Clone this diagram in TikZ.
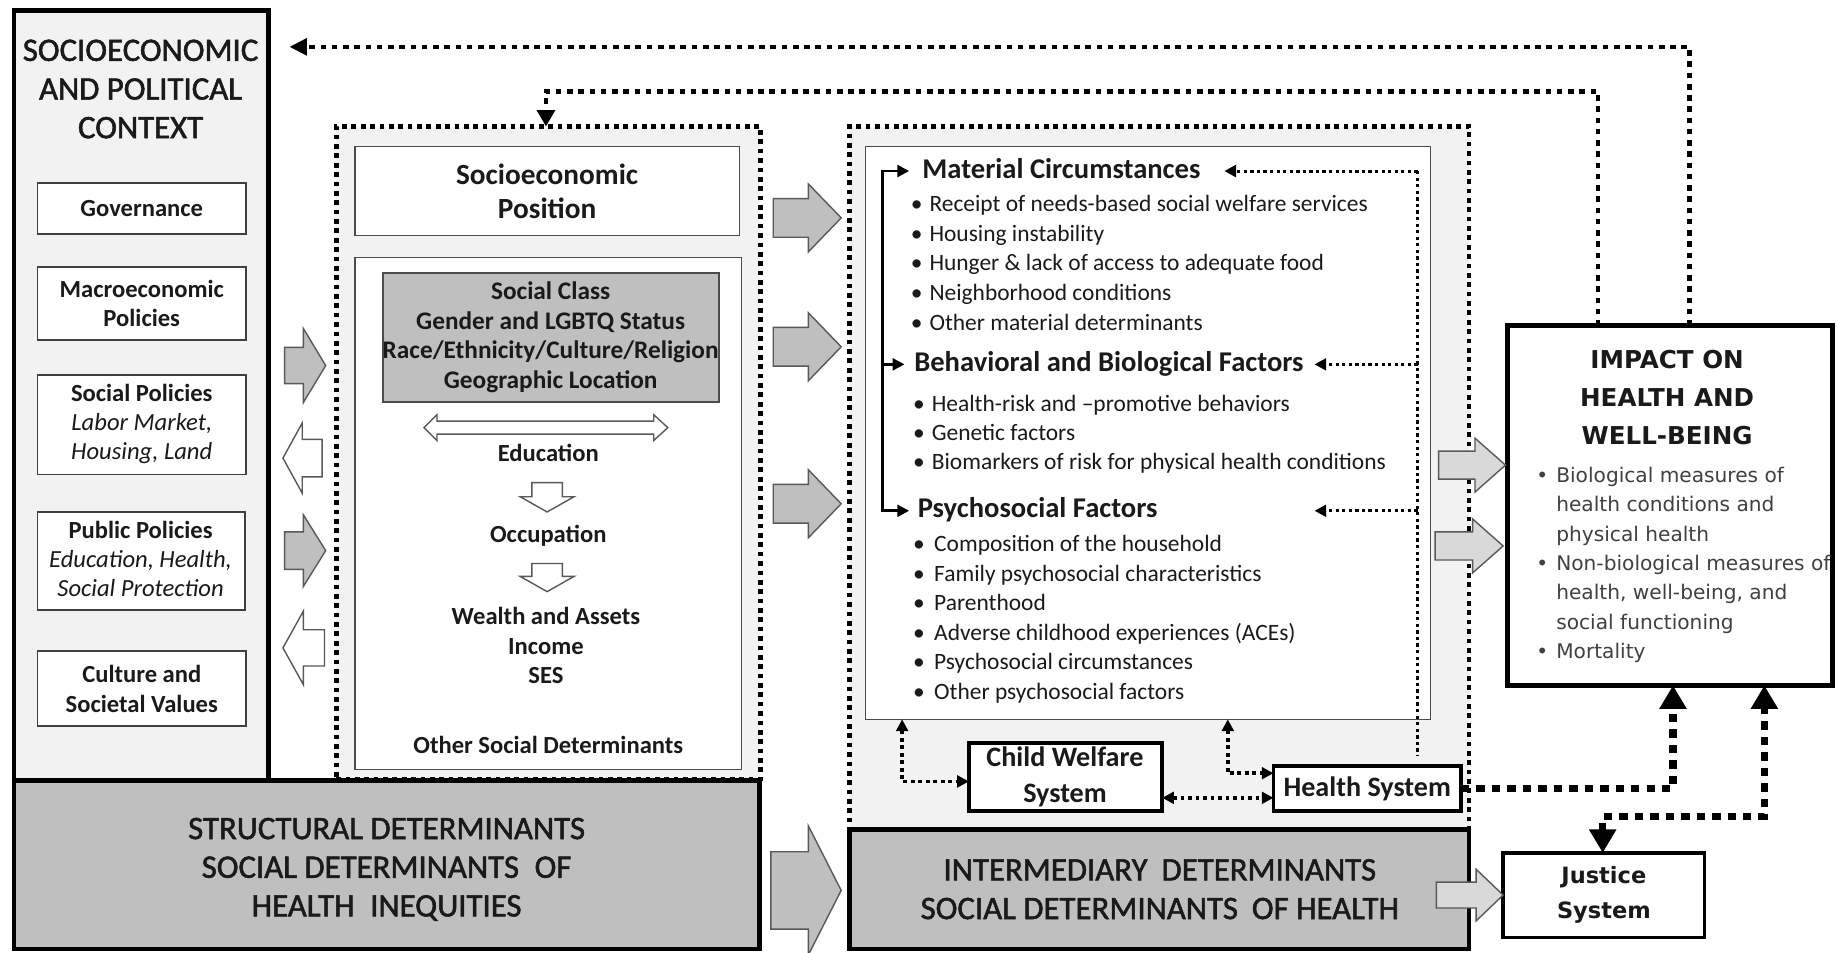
\documentclass[tikz,border=0pt]{standalone}
\usepackage{fontspec}
\setmainfont{Carlito}
\newfontfamily\verdf{DejaVu Sans}
\newfontfamily\capsf[FakeBold=1.6]{Carlito}
\usetikzlibrary{arrows.meta,fit}
\definecolor{bgl}{HTML}{F2F2F2}
\definecolor{midg}{HTML}{BFBFBF}
\definecolor{ltg}{HTML}{D9D9D9}
\definecolor{txt}{HTML}{1A1A1A}
\definecolor{imptxt}{HTML}{404040}
\newcommand{\hbarrow}[7]{\draw[barrow,fill=#7] ({#1},{#4-#5}) -- ({#2},{#4-#5}) -- ({#2},{#4-#6}) -- ({#3},{#4}) -- ({#2},{#4+#6}) -- ({#2},{#4+#5}) -- ({#1},{#4+#5}) -- cycle;}
\newcommand{\vbarrow}[6]{\draw[barrow,fill=white] ({#1-#5},{#2}) -- ({#1+#5},{#2}) -- ({#1+#5},{#3}) -- ({#1+#6},{#3}) -- ({#1},{#4}) -- ({#1-#6},{#3}) -- ({#1-#5},{#3}) -- cycle;}
\tikzset{
 boxb/.style={inner sep=0pt, outer sep=0pt},
 ctx/.style={boxb, draw=black, line width=2pt, fill=bgl},
 subb/.style={boxb, draw=black!75, line width=0.8pt, fill=white},
 innerb/.style={boxb, draw=black!70, line width=0.6pt, fill=white},
 dotreg/.style={boxb, draw=black, line width=2pt, dash pattern=on 2pt off 2pt, fill=bgl},
 det/.style={boxb, draw=black, line width=2pt, fill=midg},
 sys/.style={boxb, draw=black, line width=1.6pt, fill=white},
 barrow/.style={draw=black!65, line width=0.6pt, line join=miter},
 txtn/.style={inner sep=0pt, text=txt, align=center},
 bul/.style={inner sep=0pt, anchor=base west, text=txt, font=\fontsize{10}{12}\selectfont},
 itm/.style={inner sep=0pt, anchor=base west, text=txt, font=\fontsize{10}{12}\selectfont},
 ibul/.style={inner sep=0pt, anchor=base west, text=imptxt, font=\verdf\fontsize{8.6}{10}\selectfont},
 hdr/.style={inner sep=0pt, anchor=base west, text=txt, font=\bfseries\fontsize{12.2}{14}\selectfont},
 finedot/.style={line width=1.5pt, dash pattern=on 1.6pt off 1.6pt},
 innerdot/.style={line width=1.3pt, dash pattern=on 1.4pt off 1.4pt},
 fbline/.style={line width=2pt, dash pattern=on 2.4pt off 2.4pt},
 bigdot/.style={line width=3pt, dash pattern=on 3.6pt off 3pt},
 tipS/.style={-{Triangle[length=5pt,width=5pt]}},
}
\begin{document}
\begin{tikzpicture}[x=0.5pt,y=-0.5pt]
\useasboundingbox (0,0) rectangle (1568,813);

% ---------- regions ----------
\node[ctx, fit={(12,9)(229,666)}] (ctx) {};
\node[dotreg, fit={(287,108)(649,665)}] (sepreg) {};
\node[dotreg, fit={(725,108)(1254,708)}] (intreg) {};
\node[det, fit={(12,666)(648,810)}] (struct) {};
\node[det, fit={(725,708)(1254,810)}] (interm) {};

% ---------- context column ----------
\node[txtn, font=\capsf\fontsize{14}{16.5}\selectfont] (ctxt) at (120,76) {SOCIOECONOMIC\\AND POLITICAL\\CONTEXT};
\node[subb, fit={(32,156)(210,200)}] (gov) {};
\node[txtn, font=\bfseries\fontsize{10.5}{12.5}\selectfont] (govt) at (gov.center) {Governance};
\node[subb, fit={(32,228)(210,290)}] (mac) {};
\node[txtn, font=\bfseries\fontsize{10.5}{12.5}\selectfont] (mact) at (mac.center) {Macroeconomic\\Policies};
\node[subb, fit={(32,320)(210,405)}] (soc) {};
\node[txtn, font=\fontsize{10.5}{12.5}\selectfont] (soct) at (121,362) {\textbf{Social Policies}\\\textit{Labor Market,}\\\textit{Housing, Land}};
\node[subb, fit={(32,437)(209,521)}] (pub) {};
\node[txtn, font=\fontsize{10.5}{12.5}\selectfont] (pubt) at (120,477) {\textbf{Public Policies}\\\textit{Education, Health,}\\\textit{Social Protection}};
\node[subb, fit={(32,556)(210,620)}] (cul) {};
\node[txtn, font=\bfseries\fontsize{10.5}{12.5}\selectfont] (cult) at (cul.center) {Culture and\\Societal Values};

% ---------- arrows between context and SEP ----------
\hbarrow{243}{259}{278}{312}{15.5}{31.5}{midg}
\hbarrow{275}{258}{241.5}{391}{16}{30}{white}
\hbarrow{243}{259}{278}{470}{16}{30.5}{midg}
\hbarrow{277}{259}{241.5}{553}{15.5}{31.5}{white}

% ---------- SEP ----------
\node[innerb, fit={(303,125)(631,201)}] (sept) {};
\node[txtn, font=\bfseries\fontsize{12.5}{14.5}\selectfont] (septx) at (sept.center) {Socioeconomic\\Position};
\node[innerb, fit={(303,220)(633,657)}] (sepc) {};
\node[boxb, draw=black!70, line width=0.8pt, fill=midg, fit={(327,233)(614,343)}] (gray) {};
\node[txtn, font=\bfseries\fontsize{10.8}{12.6}\selectfont] (grayt) at (470,288) {Social Class\\Gender and LGBTQ Status\\Race/Ethnicity/Culture/Religion\\Geographic Location};
\draw[barrow,fill=white] (362,365) -- (373,354) -- (373,359.5) -- (558,359.5) -- (558,354) -- (570,365) -- (558,376) -- (558,370.5) -- (373,370.5) -- (373,376) -- cycle;
\node[txtn, font=\bfseries\fontsize{10.5}{12.5}\selectfont] (edu) at (468,387) {Education};
\vbarrow{467}{412}{424}{437}{13}{23}
\node[txtn, font=\bfseries\fontsize{10.5}{12.5}\selectfont] (occ) at (468,457) {Occupation};
\vbarrow{467}{481}{492}{505}{13}{23}
\node[txtn, font=\bfseries\fontsize{10.5}{12.5}\selectfont] (wea) at (466,551) {Wealth and Assets\\Income\\SES};
\node[txtn, font=\bfseries\fontsize{10.5}{12.5}\selectfont] (osd) at (468,636) {Other Social Determinants};

% ---------- arrows SEP -> intermediary ----------
\hbarrow{660}{690}{718}{186}{16.5}{29}{midg}
\hbarrow{660}{690}{718}{296}{16.5}{29}{midg}
\hbarrow{660}{690}{718}{430}{16.5}{29}{midg}
\hbarrow{658}{690}{718}{760}{33}{55}{midg}

% ---------- intermediary ----------
\node[innerb, fit={(739,125)(1221,614)}] (ibox) {};
\node[hdr] (mch) at (787,152) {Material Circumstances};
\foreach \tx [count=\i] in {Receipt of needs-based social welfare services, Housing instability, Hunger \& lack of access to adequate food, Neighborhood conditions, Other material determinants}{
  \node[bul] (mcb\i) at (777,{180.5+25.4*(\i-1)}) {\textbullet};
  \node[itm] (mc\i) at (793,{180.5+25.4*(\i-1)}) {\tx};
}
\node[hdr] (bbh) at (780,317) {Behavioral and Biological Factors};
\foreach \tx [count=\i] in {Health-risk and –promotive behaviors, Genetic factors, Biomarkers of risk for physical health conditions}{
  \node[bul] (bbb\i) at (779,{351+25*(\i-1)}) {\textbullet};
  \node[itm] (bb\i) at (795,{351+25*(\i-1)}) {\tx};
}
\node[hdr] (psh) at (783,442) {Psychosocial Factors};
\foreach \tx [count=\i] in {Composition of the household, Family psychosocial characteristics, Parenthood, Adverse childhood experiences (ACEs), Psychosocial circumstances, Other psychosocial factors}{
  \node[bul] (psb\i) at (779,{471+25.2*(\i-1)}) {\textbullet};
  \node[itm] (ps\i) at (797,{471+25.2*(\i-1)}) {\tx};
}
% bracket
\coordinate (brA) at (776,146);
\coordinate (brB) at (772,311);
\coordinate (brC) at (776,436);
\draw[line width=1.2pt, {Triangle[length=5pt,width=5pt]}-{Triangle[length=5pt,width=5pt]}] (brA) -- (753,146) -- (753,436) -- (brC);
\draw[line width=1.2pt, tipS] (753,311) -- (brB);
% inner dotted feedback
\coordinate (idA) at (1045,146);
\coordinate (idB) at (1122,311);
\coordinate (idC) at (1122,436);
\draw[innerdot] (1210,146) -- (1210,645);
\draw[innerdot, tipS] (1210,146) -- (idA);
\draw[innerdot, tipS] (1210,311) -- (idB);
\draw[innerdot, tipS] (1210,436) -- (idC);

% ---------- systems ----------
\node[sys, fit={(827,634)(992,692)}] (cw) {};
\node[txtn, font=\bfseries\fontsize{12}{15.5}\selectfont] (cwt) at (909,663) {Child Welfare\\System};
\node[sys, fit={(1087,654)(1247,692)}] (hs) {};
\node[txtn, font=\bfseries\fontsize{12}{14}\selectfont] (hst) at (1167,673) {Health System};

\draw[finedot, {Triangle[length=5pt,width=5pt]}-{Triangle[length=5pt,width=5pt]}] (770,0 |- ibox.south) -- (770,667) -- (770,667 -| cw.west);
\draw[finedot, {Triangle[length=5pt,width=5pt]}-{Triangle[length=5pt,width=5pt]}] (1048,0 |- ibox.south) -- (1048,660) -- (1048,660 -| hs.west);
\draw[finedot, {Triangle[length=5pt,width=5pt]}-{Triangle[length=5pt,width=5pt]}] (cw.east |- 0,681) -- (hs.west |- 0,681);

% ---------- impact ----------
\node[boxb, draw=black, line width=2.2pt, fill=white, fit={(1287,278)(1564,585)}] (imp) {};
\node[txtn, font=\verdf\bfseries\fontsize{10.5}{16.25}\selectfont] (impt) at (1423,339) {IMPACT ON\\HEALTH AND\\WELL-BEING};
\foreach \tx [count=\i] in {Biological measures of, health conditions and, physical health, Non-biological measures of, {health, well-being, and}, social functioning, Mortality}{
  \node[ibul] (im\i) at (1328,{412+25*(\i-1)}) {\tx};
}
\node[ibul] (imb1) at (1311,412) {•};
\node[ibul] (imb2) at (1311,487) {•};
\node[ibul] (imb3) at (1311,562) {•};

\hbarrow{1228}{1259}{1285}{397}{12}{23}{ltg}
\hbarrow{1225}{1257}{1283}{466}{12}{23}{ltg}

% ---------- justice ----------
\node[boxb, draw=black, line width=1.4pt, fill=white, fit={(1283,728)(1455,800)}] (js) {};
\node[txtn, font=\verdf\bfseries\fontsize{9.6}{15}\selectfont] (jst) at (js.center) {Justice\\System};
\hbarrow{1226}{1260}{1283}{764}{11}{22}{ltg}

% ---------- determinants labels ----------
\node[txtn, font=\capsf\fontsize{14}{16.5}\selectfont] (structt) at (330,742) {STRUCTURAL DETERMINANTS\\SOCIAL DETERMINANTS\hspace{0.25em} OF\\HEALTH\hspace{0.25em} INEQUITIES};
\node[txtn, font=\capsf\fontsize{14}{16.5}\selectfont] (intermt) at (990,759) {INTERMEDIARY\hspace{0.2em} DETERMINANTS\\SOCIAL DETERMINANTS\hspace{0.2em} OF HEALTH};

% ---------- thick dotted links ----------
\draw[bigdot, -{Triangle[length=10pt,width=11pt]}] (hs.east) -- (1428,0 |- hs.east) -- (1428,0 |- imp.south);
\draw[bigdot, {Triangle[length=10pt,width=11pt]}-{Triangle[length=10pt,width=11pt]}] (1368,0 |- js.north) -- (1368,697) -- (1506,697) -- (1506,0 |- imp.south);

% ---------- feedback lines ----------
\coordinate (fbF) at (247,40);
\draw[fbline, -{Triangle[length=7.5pt,width=7pt]}] (1442,0 |- imp.north) -- (1442,40) -- (fbF);
\draw[fbline, -{Triangle[length=7pt,width=7.5pt]}] (1364,0 |- imp.north) -- (1364,78) -- (466,78) -- (466,0 |- sepreg.north);
\end{tikzpicture}
\end{document}
